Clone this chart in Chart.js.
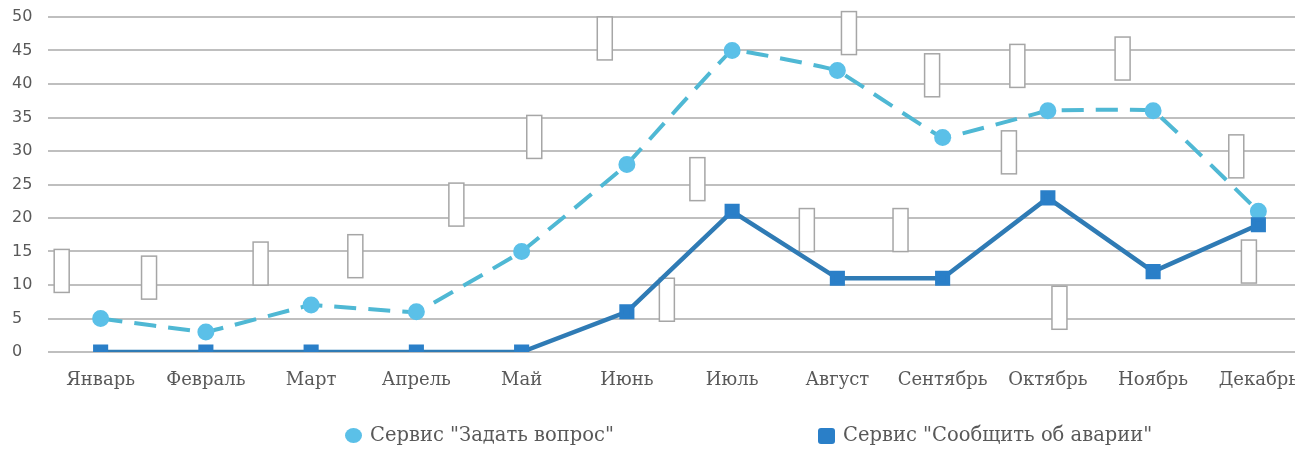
<!DOCTYPE html>
<html>
<head>
<meta charset="utf-8">
<script src="https://cdn.jsdelivr.net/npm/chart.js@4/dist/chart.umd.min.js"></script>
<style>
    html, body { margin: 0; padding: 0; background: #fff; overflow: hidden; }
    .wrap { position: relative; width: 1323px; height: 452px; }
    .legend { position: absolute; top: 423px; font-family: "DejaVu Serif", serif; font-size: 19.5px; color: #595959; white-space: nowrap; }
    .legend span.mark { display: inline-block; vertical-align: middle; margin-right: 8px; }
</style>
</head>
<body>
<div class="wrap">
    <canvas id="chart" width="1323" height="452"></canvas>
    <div class="legend" style="left:345px">
        <span class="mark" style="width:17px;height:15px;border-radius:50%;background:#5bc0e8"></span>Сервис "Задать вопрос"
    </div>
    <div class="legend" style="left:818px">
        <span class="mark" style="width:17px;height:16px;border-radius:3px;background:#2a7fc8"></span>Сервис "Сообщить об аварии"
    </div>
</div>
<script>
// data
const months = ['Январь', 'Февраль', 'Март', 'Апрель', 'Май', 'Июнь', 'Июль', 'Август', 'Сентябрь', 'Октябрь', 'Ноябрь', 'Декабрь']
const askQuestion = [5, 3, 7, 6, 15, 28, 45, 42, 32, 36, 36, 21]
const reportAccident = [0, 0, 0, 0, 0, 6, 21, 11, 11, 23, 12, 19]
const yTicks = [0, 5, 10, 15, 20, 25, 30, 35, 40, 45, 50]

// empty data label boxes (category index, value at box centre)
const labelBoxX = [-0.37, 0.46, 1.52, 2.42, 3.38, 4.12, 4.79, 7.11, 7.90, 8.71, 9.71, 10.79,
    5.38, 5.67, 6.71, 7.60, 8.63, 9.11, 10.91]
const labelBoxY = [12.1, 11.1, 13.2, 14.3, 22.0, 32.1, 46.8, 47.6, 41.3, 42.7, 43.8, 29.2,
    7.8, 25.8, 18.2, 18.2, 29.8, 6.6, 13.5]

// start: label boxes plugin
const emptyLabels = {
    id: 'emptyLabels',
    beforeDatasetsDraw(chart) {
        const ctx = chart.ctx
        const xs = chart.scales.x
        const ys = chart.scales.y
        ctx.save()
        ctx.fillStyle = '#ffffff'
        ctx.strokeStyle = '#a6a6a6'
        ctx.lineWidth = 1.5
        labelBoxX.forEach(function (v, i) {
            const cx = xs.getPixelForValue(v)
            const cy = ys.getPixelForValue(labelBoxY[i])
            ctx.fillRect(cx - 7.5, cy - 21.5, 15, 43)
            ctx.strokeRect(cx - 7.5, cy - 21.5, 15, 43)
        })
        ctx.restore()
    }
}
// end: label boxes plugin

new Chart(document.getElementById('chart'), {
    type: 'line',
    data: {
        labels: months,
        datasets: [
            {
                label: 'Сервис "Задать вопрос"',
                data: askQuestion,
                borderColor: '#4fb8d4',
                borderWidth: 4,
                borderDash: [22, 12],
                pointStyle: 'circle',
                pointRadius: 6.5,
                pointBackgroundColor: '#5bc0e8',
                pointBorderColor: '#5bc0e8',
                tension: 0.05,
                order: 2
            },
            {
                label: 'Сервис "Сообщить об аварии"',
                data: reportAccident,
                borderColor: '#2f7bb5',
                borderWidth: 4.5,
                pointStyle: 'rect',
                pointRadius: 7.5,
                pointBackgroundColor: '#2a7fc8',
                pointBorderColor: '#2a7fc8',
                tension: 0,
                order: 1
            }
        ]
    },
    options: {
        responsive: false,
        animation: false,
        layout: { padding: { left: 12, top: 17, right: 0, bottom: 55 } },
        plugins: { legend: { display: false }, tooltip: { enabled: false } },
        scales: {
            x: {
                offset: true,
                grid: { display: false, drawTicks: false },
                border: { display: false },
                ticks: {
                    padding: 18,
                    maxRotation: 0,
                    autoSkip: false,
                    color: '#595959',
                    font: { family: 'DejaVu Serif', size: 18 }
                },
                afterFit(scale) { scale.height = 45 }
            },
            y: {
                min: 0,
                max: 50,
                afterBuildTicks(scale) { scale.ticks = yTicks.map(v => ({ value: v })) },
                grid: { color: '#bfbfbf', lineWidth: 2, drawTicks: false },
                border: { display: false },
                ticks: {
                    crossAlign: 'far',
                    padding: 0,
                    color: '#595959',
                    font: { family: 'DejaVu Sans', size: 16 }
                },
                afterFit(scale) { scale.width = 36 }
            }
        }
    },
    plugins: [emptyLabels]
})
</script>
</body>
</html>
